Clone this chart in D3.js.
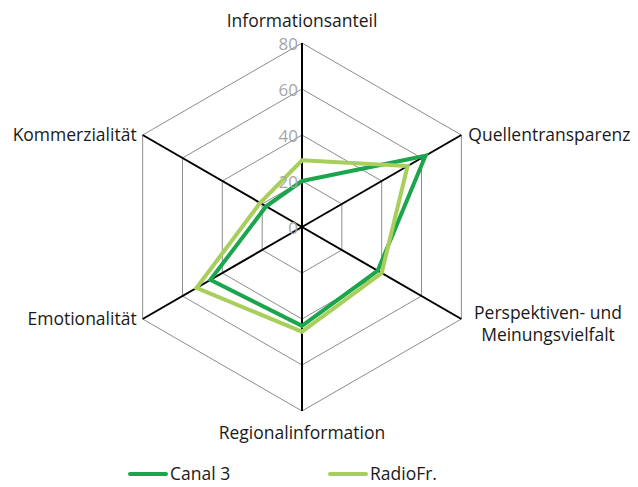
<!DOCTYPE html>
<html>
<head>
<meta charset="utf-8">
<script src="https://cdn.jsdelivr.net/npm/d3@7"></script>
<style>
  body { margin: 0; background: #fff; }
  text { font-family: "Open Sans", sans-serif; }
</style>
</head>
<body>
<div id="wrapper"></div>
<script>
const axesLabels = ["Informationsanteil", "Quellentransparenz", "Perspektiven- und\nMeinungsvielfalt", "Regionalinformation", "Emotionalität", "Kommerzialität"];
const seriesNames = ["Canal 3", "RadioFr."];
const canal3 = [20, 62, 38, 43, 46, 18];
const radioFr = [29, 53, 40, 45.5, 53, 21];
const tickValues = [0, 20, 40, 60, 80];
const colors = ["#1ba54c", "#a8cf5b"];

const width = 638, height = 487;
const cx = 302, cy = 227, R = 184;

const svg = d3.select("#wrapper").append("svg")
  .attr("width", width).attr("height", height);

const rScale = d3.scaleLinear().domain([0, 80]).range([0, R]);
const angle = i => (Math.PI * 2 * i) / axesLabels.length;
const pt = (i, v) => [cx + rScale(v) * Math.sin(angle(i)), cy - rScale(v) * Math.cos(angle(i))];

// grid hexagons
const line = d3.line();
svg.append("g").selectAll("path").data(tickValues.slice(1)).join("path")
  .attr("d", t => line(axesLabels.map((_, i) => pt(i, t))) + "Z")
  .attr("fill", "none").attr("stroke", "#8c8c8c").attr("stroke-width", 1);

// spokes
svg.append("g").selectAll("line").data(axesLabels).join("line")
  .attr("x1", cx).attr("y1", cy)
  .attr("x2", (d, i) => pt(i, 80)[0]).attr("y2", (d, i) => pt(i, 80)[1])
  .attr("stroke", "#000").attr("stroke-width", 2);

// series
[canal3, radioFr].forEach((vals, s) => {
  svg.append("path")
    .attr("d", line(vals.map((v, i) => pt(i, v))) + "Z")
    .attr("fill", "none").attr("stroke", colors[s]).attr("stroke-width", 4)
    .attr("stroke-linejoin", "miter");
});

// tick labels
svg.append("g").selectAll("text").data(tickValues).join("text")
  .attr("x", cx - 4).attr("y", t => cy - rScale(t) + 1)
  .attr("dy", "0.35em").attr("text-anchor", "end")
  .attr("font-size", 17).attr("fill", "#a6a6a6")
  .text(d => d);

// axis labels
const labelPos = [
  { x: cx, y: 21, anchor: "middle" },
  { x: pt(1, 80)[0] + 7, y: pt(1, 80)[1], anchor: "start" },
  { x: 548, y: 313, anchor: "middle" },
  { x: cx, y: 433, anchor: "middle" },
  { x: pt(4, 80)[0] - 6, y: pt(4, 80)[1], anchor: "end" },
  { x: pt(5, 80)[0] - 6, y: pt(5, 80)[1], anchor: "end" }
];
axesLabels.forEach((lab, i) => {
  const p = labelPos[i];
  const t = svg.append("text")
    .attr("x", p.x).attr("y", p.y)
    .attr("text-anchor", p.anchor).attr("font-size", 17.5).attr("fill", "#1a1a1a");
  lab.split("\n").forEach((ln, k) => {
    t.append("tspan").attr("x", p.x).attr("dy", k === 0 ? "0.35em" : "1.25em").text(ln);
  });
});

// legend
const legend = svg.append("g").selectAll("g").data(seriesNames).join("g")
  .attr("transform", (d, i) => `translate(${130 + i * 200}, 474)`);
legend.append("line").attr("x1", 0).attr("x2", 36)
  .attr("stroke", (d, i) => colors[i]).attr("stroke-width", 4).attr("stroke-linecap", "round");
legend.append("text").attr("x", 40).attr("dy", "0.35em")
  .attr("font-size", 17.5).attr("fill", "#1a1a1a").text(d => d);
</script>
</body>
</html>
